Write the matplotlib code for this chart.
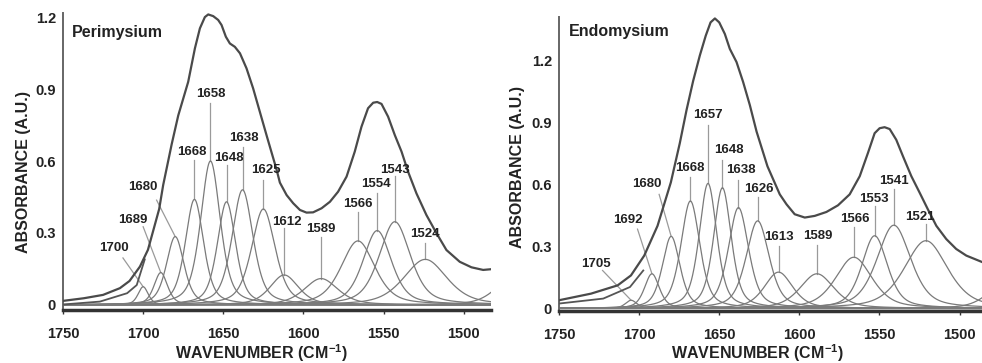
import numpy as np
import matplotlib
matplotlib.use('Agg')
import matplotlib.pyplot as plt

plt.rcParams['font.family'] = ['Liberation Sans', 'DejaVu Sans']
plt.rcParams['font.weight'] = 'bold'
plt.rcParams['mathtext.fontset'] = 'custom'
plt.rcParams['mathtext.rm'] = 'Liberation Sans:bold'
plt.rcParams['mathtext.default'] = 'rm'

### band fit parameters (centre in cm-1, height, FWHM)

peri_centers = [1700, 1689, 1680, 1668, 1658, 1648, 1638, 1625, 1612, 1589, 1566, 1554, 1543, 1524, 1470]
peri_heights = [0.076, 0.135, 0.285, 0.44, 0.60, 0.43, 0.48, 0.40, 0.125, 0.11, 0.267, 0.31, 0.347, 0.19, 0.11]
peri_widths = [7.5, 10, 13, 13.5, 14.5, 13.5, 15.5, 17.5, 21, 25, 25, 21, 23, 32, 25]
peri_labels = ['1700', '1689', '1680', '1668', '1658', '1648', '1638', '1625', '1612', '1589', '1566', '1554', '1543', '1524', '']

endo_centers = [1705, 1692, 1680, 1668, 1657, 1648, 1638, 1626, 1613, 1589, 1566, 1553, 1541, 1521, 1472]
endo_heights = [0.04, 0.168, 0.349, 0.52, 0.605, 0.584, 0.488, 0.424, 0.176, 0.168, 0.248, 0.352, 0.403, 0.328, 0.12]
endo_widths = [8.5, 11, 13, 14, 13, 13, 15, 17, 21, 25, 27, 19, 25, 32, 25]
endo_labels = ['1705', '1692', '1680', '1668', '1657', '1648', '1638', '1626', '1613', '1589', '1566', '1553', '1541', '1521', '']

### measured spectra

peri_wn = [1750, 1737, 1725, 1714.5, 1708.5, 1702, 1697, 1693.7, 1690, 1687.5, 1682.2, 1678.1,
           1675, 1671.9, 1667.7, 1664.6, 1661.5, 1659.4, 1656.3, 1653.2, 1651.1, 1648.4, 1645.9,
           1642.8, 1639.6, 1635.5, 1631.4, 1627.2, 1622.7, 1616.8, 1614.7, 1610.5, 1606.4, 1602.2,
           1598.1, 1594, 1588.7, 1583.5, 1578.4, 1573.1, 1568, 1563.8, 1559.7, 1556.5, 1554,
           1551.3, 1547.2, 1543, 1538.8, 1534.7, 1529.5, 1523.3, 1517, 1510.8, 1502.5, 1495.2,
           1487.9, 1483]
peri_abs = [0.017, 0.028, 0.042, 0.07, 0.10, 0.16, 0.23, 0.31, 0.40, 0.50, 0.67, 0.79,
            0.86, 0.93, 1.07, 1.153, 1.20, 1.211, 1.204, 1.188, 1.167, 1.118, 1.09,
            1.076, 1.049, 0.986, 0.903, 0.805, 0.70, 0.565, 0.51, 0.458, 0.424, 0.396,
            0.385, 0.386, 0.403, 0.43, 0.472, 0.535, 0.639, 0.743, 0.82, 0.843, 0.846,
            0.838, 0.785, 0.708, 0.639, 0.555, 0.465, 0.375, 0.299, 0.229, 0.18, 0.157,
            0.146, 0.149]
peri_tail_wn = [1750, 1727, 1710, 1704, 1699]
peri_tail_abs = [0.002, 0.014, 0.049, 0.083, 0.19]

endo_wn = [1750, 1730, 1713.4, 1705.1, 1696.8, 1688.5, 1680.2, 1674.6, 1670.4, 1666.3, 1662.1,
           1658.4, 1655.4, 1652.7, 1650, 1646.5, 1643.4, 1639.2, 1635.1, 1630.9, 1626.7, 1619.9,
           1612.2, 1608, 1602.9, 1596.6, 1590.4, 1583.1, 1575.9, 1568.6, 1562.3, 1557.2, 1553,
           1549.9, 1546.8, 1543.6, 1539.5, 1535.3, 1530.1, 1524.9, 1519.8, 1514.5, 1508.3,
           1502.1, 1495.8, 1486]
endo_abs = [0.04, 0.072, 0.112, 0.16, 0.256, 0.40, 0.61, 0.80, 0.96, 1.10, 1.224,
            1.32, 1.384, 1.403, 1.384, 1.328, 1.256, 1.192, 1.096, 0.984, 0.856, 0.688,
            0.552, 0.504, 0.456, 0.44, 0.448, 0.467, 0.499, 0.552, 0.64, 0.752, 0.848,
            0.872, 0.877, 0.868, 0.816, 0.736, 0.64, 0.56, 0.48, 0.40, 0.336,
            0.288, 0.256, 0.225]
endo_tail_wn = [1750, 1722.4, 1705.7, 1697.4]
endo_tail_abs = [0.024, 0.048, 0.104, 0.184]

### label placement: text x, text y, leader start x, leader start y (leader ends on band top)

peri_text = [(1718, 0.236, 1712.6, 0.196), (1706.5, 0.354, 1700, 0.326), (1700, 0.49, 1691.6, 0.437),
             (1669.5, 0.639, 1668, 0.604), (1657.5, 0.879, 1658, 0.84), (1646.6, 0.611, 1648, 0.583),
             (1637.3, 0.697, 1638, 0.66), (1623.5, 0.562, 1625, 0.52), (1610.3, 0.347, 1612, 0.32),
             (1589, 0.315, 1589, 0.285), (1566, 0.42, 1566, 0.387), (1554.5, 0.503, 1554, 0.467),
             (1543, 0.562, 1543, 0.537), (1524, 0.296, 1524, 0.258)]
endo_text = [(1727, 0.216, 1722.8, 0.184), (1707, 0.429, 1701, 0.384), (1695, 0.60, 1687.5, 0.552),
             (1668.4, 0.68, 1668, 0.634), (1657, 0.936, 1657, 0.888), (1643.8, 0.765, 1648, 0.72),
             (1636.4, 0.669, 1638, 0.624), (1625.4, 0.576, 1626, 0.538), (1613, 0.344, 1613, 0.302),
             (1588.6, 0.349, 1589, 0.307), (1565.4, 0.432, 1566, 0.394), (1553.4, 0.531, 1553, 0.494),
             (1541, 0.616, 1541, 0.576), (1524.7, 0.445, 1521, 0.408)]


def band( x, c, h, w, eta=0.5 ):
    ### pseudo-Voigt band profile
    r = 2.*(x-c)/w
    return h*( eta/(1.+r**2) + (1.-eta)*np.exp(-np.log(2)*r**2) )


def plotpanel( ax, name, centers, heights, widths, labels, wn, ab, tailwn, tailab, textpos,
               xlim, ylim, yticks, namepos ):
    x = np.linspace(1755, 1470, 1200)
    for c, h, w in zip(centers, heights, widths):
        ax.plot(x, band(x, c, h, w), color='#7a7a7a', lw=0.9, zorder=2)
    ax.plot(tailwn, tailab, color='#555555', lw=1.3, zorder=3, solid_joinstyle='round')
    ax.plot(wn, ab, color='#4a4a4a', lw=1.6, zorder=4, solid_joinstyle='round')
    # band labels with leader lines
    for i, lab in enumerate(labels):
        if lab == '': continue
        tx, ty, lx, ly = textpos[i]
        ax.plot([lx, centers[i]], [ly, heights[i]], color='#9a9a9a', lw=0.9, zorder=1)
        ax.text(tx, ty, lab, ha='center', va='center', fontsize=9.5,
                fontweight='bold', color='#222222', zorder=5)
    ax.text(namepos[0], namepos[1], name, transform=ax.transAxes, ha='left', va='center',
            fontsize=11.5, fontweight='bold', color='#222222')
    ax.set_xlim(xlim)
    ax.set_ylim(ylim)
    ax.set_xticks([1750, 1700, 1650, 1600, 1550, 1500])
    ax.set_yticks(yticks)
    ax.set_yticklabels(['0' if v == 0 else '{:.1f}'.format(v) for v in yticks])
    for s in ['top', 'right']:
        ax.spines[s].set_visible(False)
    ax.spines['left'].set_color('#666666')
    ax.spines['left'].set_linewidth(1.4)
    ax.spines['bottom'].set_color('#333333')
    ax.spines['bottom'].set_linewidth(2.5)
    ax.tick_params(axis='x', length=3, width=1, pad=9, labelsize=10.5, colors='#333333')
    ax.tick_params(axis='y', length=0, pad=5, labelsize=10.5, colors='#333333')
    for t in ax.get_xticklabels() + ax.get_yticklabels():
        t.set_fontweight('bold')
        t.set_color('#222222')
    ax.set_xlabel('WAVENUMBER (CM$^{-1}$)', fontsize=11.5, fontweight='bold', color='#222222')
    ax.set_ylabel('ABSORBANCE (A.U.)', fontsize=11.5, fontweight='bold', color='#222222')


fig = plt.figure(figsize=(9.82, 3.63), dpi=100)
ax1 = fig.add_axes([63/982., 53/363., 428/982., 297/363.])
ax2 = fig.add_axes([559/982., 52/363., 423/982., 294/363.])

plotpanel(ax1, 'Perimysium', peri_centers, peri_heights, peri_widths, peri_labels,
          peri_wn, peri_abs, peri_tail_wn, peri_tail_abs, peri_text,
          (1750, 1483), (-0.021, 1.217), [0, 0.3, 0.6, 0.9, 1.2], (0.021, 0.936))
plotpanel(ax2, 'Endomysium', endo_centers, endo_heights, endo_widths, endo_labels,
          endo_wn, endo_abs, endo_tail_wn, endo_tail_abs, endo_text,
          (1750, 1486), (-0.012, 1.41), [0, 0.3, 0.6, 0.9, 1.2], (0.024, 0.949))

ax1.xaxis.set_label_coords(0.464, -0.108)
ax2.xaxis.set_label_coords(0.47, -0.105)
ax1.yaxis.set_label_coords((31-63)/428., (310-172)/297.)
ax2.yaxis.set_label_coords((525-559)/423., (311-167)/294.)

fig.savefig('out.png', dpi=100)
